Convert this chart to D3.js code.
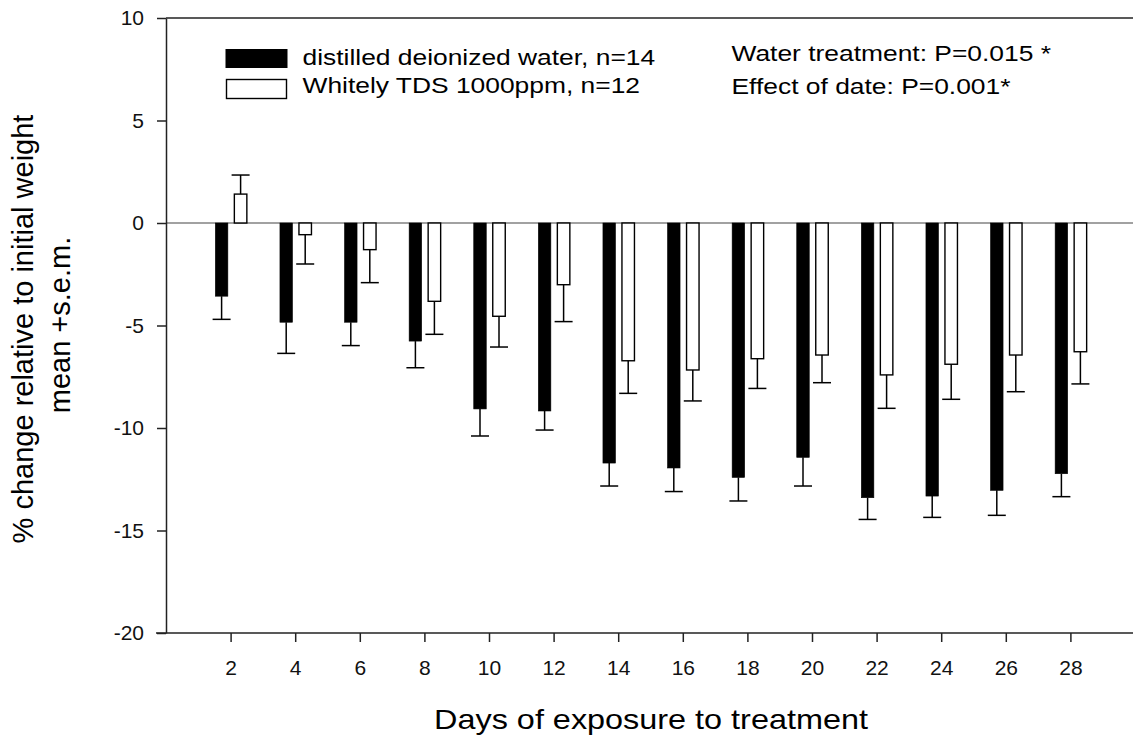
<!DOCTYPE html>
<html lang="en">
<head>
<meta charset="UTF-8">
<title>Weight change by water treatment</title>
<script src="https://d3js.org/d3.v7.min.js"></script>
<style>
    body { margin: 0; background: #fff; }
    svg { display: block; font-family: 'Liberation Sans', Arial, sans-serif; }
    .axis line, .axis path { stroke: #222; stroke-width: 1.5px; }
</style>
</head>
<body>
<svg width="1133" height="738"></svg>
<script>
// data
const days = [2, 4, 6, 8, 10, 12, 14, 16, 18, 20, 22, 24, 26, 28];
const waterMean = [-3.57, -4.84, -4.84, -5.76, -9.07, -9.17, -11.71, -11.95, -12.41, -11.43, -13.40, -13.32, -13.04, -12.23];
const waterSem  = [1.13, 1.52, 1.14, 1.30, 1.32, 0.93, 1.12, 1.15, 1.15, 1.40, 1.06, 1.04, 1.22, 1.12];
const tdsMean   = [1.41, -0.57, -1.30, -3.82, -4.55, -3.01, -6.72, -7.17, -6.62, -6.44, -7.41, -6.89, -6.44, -6.28];
const tdsSem    = [0.93, 1.43, 1.61, 1.61, 1.50, 1.80, 1.59, 1.51, 1.45, 1.35, 1.63, 1.71, 1.79, 1.57];
const yTicks = [-20, -15, -10, -5, 0, 5, 10];
const seriesNames = ["distilled deionized water, n=14", "Whitely TDS 1000ppm, n=12"];
const notes = ["Water treatment: P=0.015 *", "Effect of date: P=0.001*"];

const svg = d3.select("svg");
const plotL = 166, plotR = 1135, plotT = 18, plotB = 633;

const x = d3.scaleLinear().domain([0, 30]).range([plotL, plotR]);
const y = d3.scaleLinear().domain([-20, 10]).range([plotB, plotT]);

// frame: top line
svg.append("line")
    .attr("x1", plotL).attr("x2", 1133).attr("y1", plotT).attr("y2", plotT)
    .attr("stroke", "#222").attr("stroke-width", 1.5);

// zero line
svg.append("line")
    .attr("x1", plotL).attr("x2", 1133).attr("y1", y(0)).attr("y2", y(0))
    .attr("stroke", "#444").attr("stroke-width", 1.2);

// y axis (plain hyphen for negatives)
const yAxis = svg.append("g").attr("class", "axis")
    .attr("transform", `translate(${plotL},0)`)
    .call(d3.axisLeft(y).tickValues(yTicks).tickFormat(d => String(d))
        .tickSize(9).tickSizeOuter(0).tickPadding(13));
yAxis.selectAll("text").attr("font-size", 21).attr("fill", "#111")
    .attr("font-family", "'Liberation Sans', Arial, sans-serif");

// x axis
const xAxis = svg.append("g").attr("class", "axis")
    .attr("transform", `translate(0,${plotB})`)
    .call(d3.axisBottom(x).tickValues(days).tickFormat(d => String(d))
        .tickSize(9).tickSizeOuter(0).tickPadding(18));
xAxis.select(".domain").attr("d", "M156,0H1133");
xAxis.selectAll("text").attr("font-size", 21).attr("fill", "#111")
    .attr("font-family", "'Liberation Sans', Arial, sans-serif");

const barW = 12.5;

// bars
function drawSeries(means, sems, offset, filled) {
    const g = svg.append("g");
    const rows = days.map((d, i) => ({ d, m: means[i], s: sems[i] }));
    g.selectAll("rect").data(rows).join("rect")
        .attr("x", r => x(r.d) + offset - barW / 2)
        .attr("width", barW)
        .attr("y", r => y(Math.max(0, r.m)))
        .attr("height", r => Math.abs(y(r.m) - y(0)))
        .attr("fill", filled ? "#000" : "#fff")
        .attr("stroke", "#000")
        .attr("stroke-width", filled ? 0.6 : 1.4);
    // error bars, away from zero
    const end = r => r.m >= 0 ? r.m + r.s : r.m - r.s;
    g.selectAll("line.stem").data(rows).join("line")
        .attr("class", "stem")
        .attr("x1", r => x(r.d) + offset).attr("x2", r => x(r.d) + offset)
        .attr("y1", r => y(r.m)).attr("y2", r => y(end(r)))
        .attr("stroke", "#000").attr("stroke-width", 1.5);
    g.selectAll("line.cap").data(rows).join("line")
        .attr("class", "cap")
        .attr("x1", r => x(r.d) + offset - 9).attr("x2", r => x(r.d) + offset + 9)
        .attr("y1", r => y(end(r))).attr("y2", r => y(end(r)))
        .attr("stroke", "#000").attr("stroke-width", 1.5);
}
drawSeries(waterMean, waterSem, -9, true);
drawSeries(tdsMean, tdsSem, 10, false);

// horizontally stretched text, like the original export
function stretchedText(tx, ty, str, size, sx, anchor) {
    svg.append("g").attr("transform", `translate(${tx},${ty}) scale(${sx},1)`)
        .append("text")
        .attr("font-size", size)
        .attr("text-anchor", anchor || "start")
        .attr("fill", "#000")
        .text(str);
}

// legend
const legend = svg.append("g");
legend.append("rect").attr("x", 226).attr("y", 49.5).attr("width", 61).attr("height", 18)
    .attr("fill", "#000").attr("stroke", "#000").attr("stroke-width", 1);
legend.append("rect").attr("x", 226.5).attr("y", 79.5).attr("width", 60).attr("height", 19)
    .attr("fill", "#fff").attr("stroke", "#000").attr("stroke-width", 1.4);
stretchedText(302.5, 65, seriesNames[0], 22, 1.2);
stretchedText(302.5, 93, seriesNames[1], 22, 1.2);

// statistics notes
stretchedText(731.5, 60.5, notes[0], 22, 1.2);
stretchedText(731.5, 93.5, notes[1], 22, 1.2);

// axis titles
stretchedText(651, 729, "Days of exposure to treatment", 27, 1.2, "middle");

const yt = svg.append("g").attr("font-size", 29).attr("text-anchor", "middle").attr("fill", "#000");
yt.append("text").attr("transform", "translate(33,329) rotate(-90)")
    .text("% change relative to initial weight");
yt.append("text").attr("transform", "translate(70,325) rotate(-90)")
    .text("mean +s.e.m.");
</script>
</body>
</html>
